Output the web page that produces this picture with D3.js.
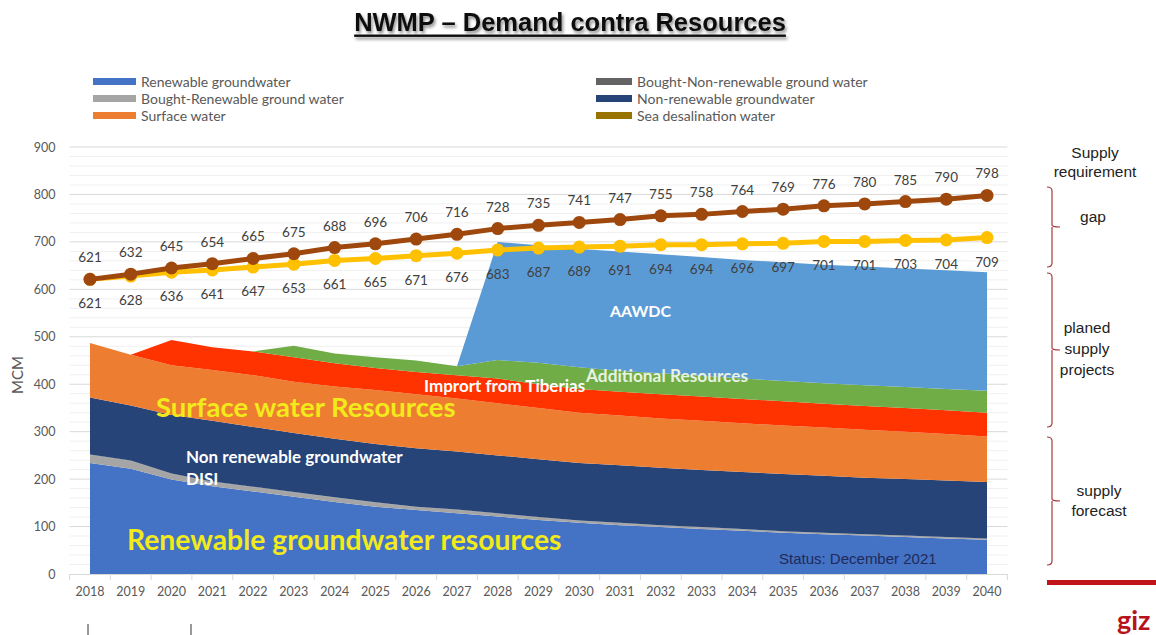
<!DOCTYPE html>
<html><head><meta charset="utf-8">
<script src="https://cdn.jsdelivr.net/npm/d3@7"></script>
<style>
html,body{margin:0;padding:0;background:#fff;}
svg{display:block;}
</style></head>
<body>
<svg id="chart" width="1156" height="635"></svg>
<script>
// ---------- DATA ----------
const years = [2018,2019,2020,2021,2022,2023,2024,2025,2026,2027,2028,2029,2030,2031,2032,2033,2034,2035,2036,2037,2038,2039,2040];
const yTicks = [0,100,200,300,400,500,600,700,800,900];

const renewable      = [234,222,199,185,174,163,152,142,135,128,121,114,108,103,99,95,91,87,84,81,78,75,72];
const boughtRenew    = [17,16,12,9,9,9,9,8,6,7,6,5,4,4,3,3,3,2,2,2,2,2,2];
const boughtNonRenew = [1,1,1,1,1,1,1,1,1,1,1,1,1,1,1,1,1,1,1,1,1,1,1];
const nonRenewable   = [120,116,123,128,126,124,123,123,123,122,122,122,121,121,121,120,120,121,120,119,119,119,119];
const surface        = [115,107,105,107,109,108,110,114,114,112,110,108,106,105,104,104,103,102,102,101,100,98,96];
const tiberias       = [0,0,53,48,50,52,49,46,47,49,52,50,50,50,51,51,51,51,50,50,50,50,50];
const additional     = [0,0,0,0,0,24,21,23,24,19,39,45,46,44,44,44,43,43,43,44,44,45,46];
const aawdc          = [0,0,0,0,0,0,0,0,0,0,249,248,249,252,251,250,250,250,250,250,250,250,250];

const requirement    = [621,632,645,654,665,675,688,696,706,716,728,735,741,747,755,758,764,769,776,780,785,790,798];
const supplyLine     = [621,628,636,641,647,653,661,665,671,676,683,687,689,691,694,694,696,697,701,701,703,704,709];

const legendCol1 = ["Renewable groundwater","Bought-Renewable ground water","Surface water"];
const legendCol1Colors = ["#4472C4","#A5A5A5","#ED7D31"];
const legendCol2 = ["Bought-Non-renewable ground water","Non-renewable groundwater","Sea desalination water"];
const legendCol2Colors = ["#636363","#264478","#997300"];

const layerKeys = ["renewable","boughtRenew","boughtNonRenew","nonRenewable","surface","tiberias","additional","aawdc"];
const layerSeries = {renewable, boughtRenew, boughtNonRenew, nonRenewable, surface, tiberias, additional, aawdc};
const layerColors = {renewable:"#4472C4", boughtRenew:"#A5A5A5", boughtNonRenew:"#7F7F7F", nonRenewable:"#264478",
  surface:"#ED7D31", tiberias:"#FF3300", additional:"#70AD47", aawdc:"#5B9BD5"};

// ---------- CHART ----------
const svg = d3.select("#chart");
svg.append("rect").attr("width",1156).attr("height",635).attr("fill","#fff");

const defs = svg.append("defs");
const f = defs.append("filter").attr("id","shadow").attr("filterUnits","userSpaceOnUse")
  .attr("x",300).attr("y",0).attr("width",560).attr("height",50);
f.append("feDropShadow").attr("dx",1.5).attr("dy",2.5).attr("stdDeviation",1.8).attr("flood-color","#000").attr("flood-opacity",0.45);

const plotL = 69.6, plotR = 1007.4, plotT = 147, plotB = 574;
const xBand = d3.scaleBand().domain(years).range([plotL, plotR]).padding(0);
const xc = d => xBand(d) + xBand.bandwidth()/2;
const y = d3.scaleLinear().domain([0,900]).range([plotB, plotT]);

// gridlines
const minor = d3.range(20, 900, 20).filter(v => v % 100 !== 0);
svg.append("g").selectAll("line").data(minor).join("line")
  .attr("x1",plotL).attr("x2",plotR).attr("y1",d=>y(d)).attr("y2",d=>y(d))
  .attr("stroke","#F0F0F0").attr("stroke-width",1);
svg.append("g").selectAll("line").data(yTicks.filter(v=>v>0)).join("line")
  .attr("x1",plotL).attr("x2",plotR).attr("y1",d=>y(d)).attr("y2",d=>y(d))
  .attr("stroke","#D9D9D9").attr("stroke-width",1);

// stacked areas
const table = years.map((yr,i) => { const o = {year:yr}; layerKeys.forEach(k => o[k] = layerSeries[k][i]); return o; });
const stacked = d3.stack().keys(layerKeys)(table);
const area = d3.area().x(d => xc(d.data.year)).y0(d => y(d[0])).y1(d => y(d[1]));
svg.append("g").selectAll("path").data(stacked).join("path")
  .attr("d", area).attr("fill", d => layerColors[d.key]);

// x axis
const xAxis = d3.axisBottom(xBand).tickSize(0).tickPadding(13);
const gx = svg.append("g").attr("transform",`translate(0,${plotB})`).call(xAxis);
gx.select(".domain").attr("stroke","#D9D9D9");
gx.selectAll("text").attr("font-family","Lato, 'Open Sans', sans-serif").attr("font-size",12.5).attr("fill","#595959");
svg.append("g").selectAll("line").data(years.concat(["end"])).join("line")
  .attr("x1",(d,i)=> plotL + i*xBand.bandwidth()).attr("x2",(d,i)=> plotL + i*xBand.bandwidth())
  .attr("y1",plotB).attr("y2",plotB+6).attr("stroke","#D9D9D9");

// y axis labels
const yAxis = d3.axisLeft(y).tickValues(yTicks).tickSize(0).tickPadding(14);
const gy = svg.append("g").attr("transform",`translate(${plotL},0)`).call(yAxis);
gy.select(".domain").remove();
gy.selectAll("text").attr("font-family","Lato, 'Open Sans', sans-serif").attr("font-size",12.5).attr("fill","#595959");

svg.append("text").attr("transform","translate(23,375) rotate(-90)").attr("text-anchor","middle")
  .attr("font-family","Lato, sans-serif").attr("font-size",15).attr("fill","#595959").text("MCM");

// lines
const line = d3.line().x((d,i)=>xc(years[i])).y(d=>y(d));
function drawLine(vals, color){
  svg.append("path").attr("d", line(vals)).attr("fill","none").attr("stroke",color).attr("stroke-width",5).attr("stroke-linejoin","round");
  svg.append("g").selectAll("circle").data(vals).join("circle")
    .attr("cx",(d,i)=>xc(years[i])).attr("cy",d=>y(d)).attr("r",6.5).attr("fill",color);
}
drawLine(supplyLine, "#FFC000");
drawLine(requirement, "#9E480E");

const lblFont = "Lato, 'Open Sans', sans-serif";
svg.append("g").selectAll("text").data(requirement).join("text")
  .attr("x",(d,i)=>xc(years[i])).attr("y",d=>y(d)-17).attr("text-anchor","middle")
  .attr("font-family",lblFont).attr("font-size",13.5).attr("fill","#404040").text(d=>d);
svg.append("g").selectAll("text").data(supplyLine).join("text")
  .attr("x",(d,i)=>xc(years[i])).attr("y",d=>y(d)+29).attr("text-anchor","middle")
  .attr("font-family",lblFont).attr("font-size",13.5).attr("fill","#404040").text(d=>d);

// overlay texts
function txt(x,yy,s,size,color,weight,family){
  return svg.append("text").attr("x",x).attr("y",yy).attr("font-size",size).attr("fill",color)
    .attr("font-weight",weight||"normal").attr("font-family",family||"Lato, sans-serif").text(s);
}
txt(156,417,"Surface water Resources",27.5,"#F2EA1A","bold");
txt(127,550,"Renewable groundwater resources",28.3,"#F2EA1A","bold");
txt(186,463,"Non renewable groundwater",17,"#FFFFFF","bold");
txt(186,485,"DISI",17,"#FFFFFF","bold");
txt(424,392,"Imprort from Tiberias",17,"#FFFFFF","bold");
txt(586,382,"Additional Resources",17.3,"#E8F2E0","bold");
txt(610,317,"AAWDC",16,"#FFFFFF","bold");
txt(779,564,"Status: December 2021",15,"#1F2A5A","normal","'Liberation Sans Narrow', 'Liberation Sans', Arial, sans-serif");

// legend
const lg = svg.append("g").attr("font-family","Lato, sans-serif").attr("font-size",14).attr("fill","#595959");
legendCol1.forEach((s,i)=>{
  lg.append("rect").attr("x",93).attr("y",78+i*17).attr("width",43).attr("height",7).attr("fill",legendCol1Colors[i]);
  lg.append("text").attr("x",141).attr("y",87+i*17).text(s);
});
legendCol2.forEach((s,i)=>{
  lg.append("rect").attr("x",596).attr("y",78+i*17).attr("width",36).attr("height",7).attr("fill",legendCol2Colors[i]);
  lg.append("text").attr("x",637).attr("y",87+i*17).text(s);
});

// title
const tg = svg.append("g").attr("filter","url(#shadow)");
const title = tg.append("text").attr("x",570).attr("y",31).attr("text-anchor","middle")
  .attr("font-family","'Liberation Sans', Arial, sans-serif").attr("font-weight","bold").attr("font-size",25.5)
  .attr("fill","#111").text("NWMP – Demand contra Resources");
const tb = title.node().getBBox();
tg.append("rect").attr("x",tb.x).attr("y",34.5).attr("width",tb.width).attr("height",2.4).attr("fill","#111");

// right annotations
const ann = svg.append("g").attr("font-family","'Liberation Sans', Arial, sans-serif").attr("font-size",15.5).attr("fill","#222").attr("text-anchor","middle");
[["Supply",1095,158],["requirement",1095,177],["gap",1093,222],["planed",1087,333],["supply",1087,354],["projects",1087,375],["supply",1099,496],["forecast",1099,516]]
  .forEach(([s,x,yy]) => ann.append("text").attr("x",x).attr("y",yy).text(s));

function brace(x, y0, y1){
  const m = (y0+y1)/2, w = 5, r = 4;
  const p = `M${x},${y0} Q${x+w},${y0} ${x+w},${y0+r} L${x+w},${m-2} Q${x+w},${m} ${x+w+8},${m} M${x+w},${m+0} L${x+w},${y1-r} Q${x+w},${y1} ${x},${y1}`;
  svg.append("path").attr("d",p).attr("fill","none").attr("stroke","#A63A3A").attr("stroke-width",1.2);
}
brace(1047,187,267);
brace(1047,273,427);
brace(1047,437,565);

// giz branding
svg.append("rect").attr("x",1047).attr("y",580).attr("width",109).attr("height",5).attr("fill","#C0141B");
svg.append("text").attr("x",1117).attr("y",630).attr("font-family","Lato, sans-serif").attr("font-size",27)
  .attr("font-weight","bold").attr("fill","#B8121B").text("giz");

// slide artifacts
[88,191].forEach(x => svg.append("line").attr("x1",x).attr("x2",x).attr("y1",624).attr("y2",635).attr("stroke","#333").attr("stroke-width",1));
</script>
</body></html>
